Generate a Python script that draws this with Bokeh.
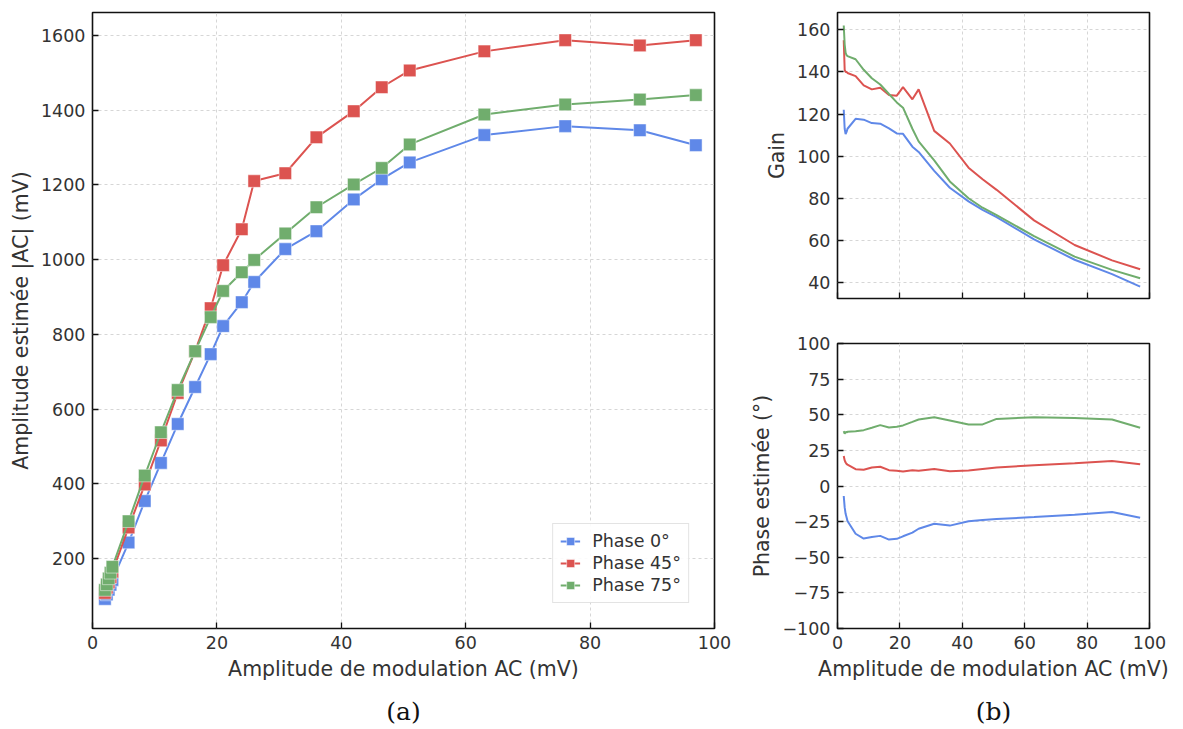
from bokeh.plotting import figure
from bokeh.layouts import row, column
from bokeh.models import Range1d, FixedTicker, Legend, LegendItem, Title
from bokeh.embed import file_html
from bokeh.resources import INLINE

# ---------------- data ----------------
amp_ac = [2.0, 2.3, 2.6, 2.9, 3.2, 5.8, 8.4, 11.0, 13.7, 16.5, 19.0, 21.0, 24.0, 26.0,
          31.0, 36.0, 42.0, 46.5, 51.0, 63.0, 76.0, 88.0, 97.0]

est_0 = [92, 104, 117, 130, 143, 243, 354, 456, 560, 659, 747, 822, 886, 940,
         1028, 1076, 1161, 1215, 1260, 1333, 1357, 1346, 1306]
est_45 = [108, 122, 136, 150, 165, 283, 398, 516, 643, 755, 870, 985, 1081, 1210,
          1231, 1327, 1397, 1461, 1506, 1557, 1587, 1573, 1587]
est_75 = [116, 131, 147, 162, 178, 300, 422, 538, 651, 755, 846, 916, 966, 999,
          1070, 1140, 1201, 1245, 1308, 1388, 1415, 1428, 1440]

gain_0 = [122, 113, 110.5, 111.5, 113, 117.7, 117.3, 115.7, 115.4, 113.2, 110.8, 110.6,
          104.5, 102, 93, 85, 78.5, 74.5, 71, 60.5, 50.8, 44, 38]
gain_45 = [155, 141, 140, 140, 139.5, 138, 133.6, 131.7, 132.5, 129, 128.7, 132.8,
           127, 131.7, 112, 106, 94.5, 89, 84, 69.5, 57.8, 50.5, 46.3]
gain_75 = [162, 153, 149, 148, 147.5, 146, 141, 137, 134, 129.5, 125.5, 123,
           113, 107, 98, 88, 80, 75.5, 72, 62, 52.3, 46, 42]

phase_0 = [-7, -15, -19.5, -22, -24.5, -33.5, -36.9, -35.8, -35, -37.6, -37.1, -35.3,
           -32.7, -30, -26.5, -27.8, -24.8, -23.8, -23.2, -21.8, -20.2, -18.3, -22.3]
phase_45 = [21, 18, 16.5, 15.5, 15, 11.8, 11.4, 13, 13.5, 11.1, 10.7, 10.2,
            11.1, 10.7, 12, 10.4, 10.9, 12, 13, 14.5, 16, 17.6, 15.3]
phase_75 = [38.5, 36.7, 38, 37.5, 38, 38.5, 39.2, 40.9, 42.7, 41, 41.6, 42.5,
            45, 46.7, 48.3, 46, 43.2, 43.2, 47.1, 48.3, 47.8, 46.7, 40.9]

labels = ["Phase 0°", "Phase 45°", "Phase 75°"]
colors = ["#5f88e8", "#dc5350", "#70ad6d"]

x_ticks = [0, 20, 40, 60, 80, 100]
amp_ticks = [200, 400, 600, 800, 1000, 1200, 1400, 1600]
gain_ticks = [40, 60, 80, 100, 120, 140, 160]
phase_ticks = [-100, -75, -50, -25, 0, 25, 50, 75, 100]

TXT = "#333333"
FONT = "DejaVu Sans"


def style(p, xticks, yticks, xlabel=None, ylabel=None, hide_xlabels=False):
    p.background_fill_color = "white"
    p.border_fill_color = "white"
    p.outline_line_color = "#111111"
    p.outline_line_width = 1.6
    for ax in (p.xaxis[0], p.yaxis[0]):
        ax.axis_line_color = None
        ax.major_tick_in = 6
        ax.major_tick_out = 0
        ax.minor_tick_line_color = None
        ax.major_tick_line_color = "#111111"
        ax.major_tick_line_width = 1.3
        ax.major_label_text_font = FONT
        ax.major_label_text_font_size = "17.5px"
        ax.major_label_text_color = TXT
        ax.axis_label_text_font = FONT
        ax.axis_label_text_font_size = "20.5px"
        ax.axis_label_text_font_style = "normal"
        ax.axis_label_text_color = TXT
        ax.major_label_standoff = 7
        ax.axis_label_standoff = 5
    p.yaxis[0].ticker = FixedTicker(ticks=yticks)
    if hide_xlabels:
        # tick marks only, without labels (shared x axis)
        p.xaxis[0].ticker = FixedTicker(ticks=[], minor_ticks=xticks)
        p.xaxis[0].minor_tick_line_color = "#111111"
        p.xaxis[0].minor_tick_line_width = 1.3
        p.xaxis[0].minor_tick_in = 6
        p.xaxis[0].minor_tick_out = 0
    else:
        p.xaxis[0].ticker = FixedTicker(ticks=xticks)
    over = {}
    for t in yticks:
        if t < 0:
            over[t] = "\u2212" + str(abs(t))
    if over:
        p.yaxis[0].major_label_overrides = over
    if xlabel:
        p.xaxis[0].axis_label = xlabel
    if ylabel:
        p.yaxis[0].axis_label = ylabel
    for g in (p.xgrid[0], p.ygrid[0]):
        g.grid_line_color = "#d6d6d6"
        g.grid_line_dash = "3 3"
        g.grid_line_width = 1
    p.xgrid[0].ticker = FixedTicker(ticks=xticks)
    p.ygrid[0].ticker = FixedTicker(ticks=yticks)


# ---------------- (a) ----------------
pa = figure(frame_width=622, frame_height=616, min_border_left=92, min_border_right=30,
            min_border_top=12, min_border_bottom=93,
            x_range=Range1d(0, 100), y_range=Range1d(13, 1661),
            output_backend="svg", toolbar_location=None)
style(pa, x_ticks, amp_ticks, "Amplitude de modulation AC (mV)", "Amplitude estimée |AC| (mV)")

items = []
for ys, lab, col in zip([est_0, est_45, est_75], labels, colors):
    l = pa.line(amp_ac, ys, line_color=col, line_width=2)
    s = pa.scatter(amp_ac, ys, marker="square", size=12.5, fill_color=col,
                   line_color="white", line_width=0.8, line_alpha=0.6)
    items.append(LegendItem(label=lab, renderers=[l, s]))

leg = Legend(items=items, location="bottom_right")
leg.margin = 25
leg.padding = 7
leg.spacing = 2
leg.glyph_width = 20
leg.glyph_height = 20
leg.label_height = 20
leg.label_standoff = 12
leg.label_text_font = FONT
leg.label_text_font_size = "17.5px"
leg.label_text_color = TXT
leg.border_line_color = "#c8c8c8"
leg.border_line_width = 1
leg.background_fill_color = "white"
leg.background_fill_alpha = 0.9
pa.add_layout(leg)

cap_a = Title(text="(a)", align="center", text_font="DejaVu Serif", text_font_size="25px",
              text_font_style="normal", text_color="#111111", standoff=22)
pa.add_layout(cap_a, "below")

# ---------------- (b) gain ----------------
pg = figure(frame_width=312, frame_height=286, min_border_left=93, min_border_right=30,
            min_border_top=12, min_border_bottom=20,
            x_range=Range1d(0, 100), y_range=Range1d(32.4, 168.2),
            output_backend="svg", toolbar_location=None)
style(pg, x_ticks, gain_ticks, None, "Gain", hide_xlabels=True)
for ys, col in zip([gain_0, gain_45, gain_75], colors):
    pg.line(amp_ac, ys, line_color=col, line_width=2)

# ---------------- (b) phase ----------------
pp = figure(frame_width=312, frame_height=285, min_border_left=93, min_border_right=30,
            min_border_top=25, min_border_bottom=93,
            x_range=Range1d(0, 100), y_range=Range1d(-100, 100),
            output_backend="svg", toolbar_location=None)
style(pp, x_ticks, phase_ticks, "Amplitude de modulation AC (mV)", "Phase estimée (°)")
for ys, col in zip([phase_0, phase_45, phase_75], colors):
    pp.line(amp_ac, ys, line_color=col, line_width=2)

cap_b = Title(text="(b)", align="center", text_font="DejaVu Serif", text_font_size="25px",
              text_font_style="normal", text_color="#111111", standoff=22)
pp.add_layout(cap_b, "below")

layout = row(pa, column(pg, pp, spacing=0), spacing=0)

open("out.html", "w").write(file_html(layout, INLINE))
